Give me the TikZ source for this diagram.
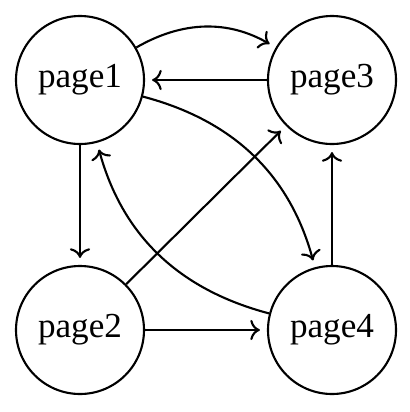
\documentclass[tikz,border=0pt]{standalone}
\usepackage{fontspec}
\setmainfont{Liberation Serif}
\usepackage{tikz}
\usetikzlibrary{arrows, arrows.meta, positioning}
\begin{document}
\begin{tikzpicture}[>={To[scale=1.4]}, line width=1.5pt,
	page/.style={draw, circle, minimum size=3.2cm, inner sep=0pt, font=\fontsize{25}{30}\selectfont},
	every edge/.style={draw, ->, shorten >=5pt}]
	\useasboundingbox (0,0) rectangle (10.25,-10.3);
	\node[page] (page1) at (2,-2) {page1};
	\node[page] (page3) at (8.3,-2) {page3};
	\node[page] (page2) at (2,-8.25) {page2};
	\node[page] (page4) at (8.3,-8.25) {page4};
	
	\draw (page1) edge[bend left=30] (page3);
	\draw (page3) edge (page1);
	\draw (page1) edge[bend left=30] (page4);
	\draw (page4) edge[bend left=30] (page1);
	\draw (page1) edge (page2);
	\draw (page2) edge (page3);
	\draw (page2) edge (page4);
	\draw (page4) edge (page3);
\end{tikzpicture}
\end{document}
